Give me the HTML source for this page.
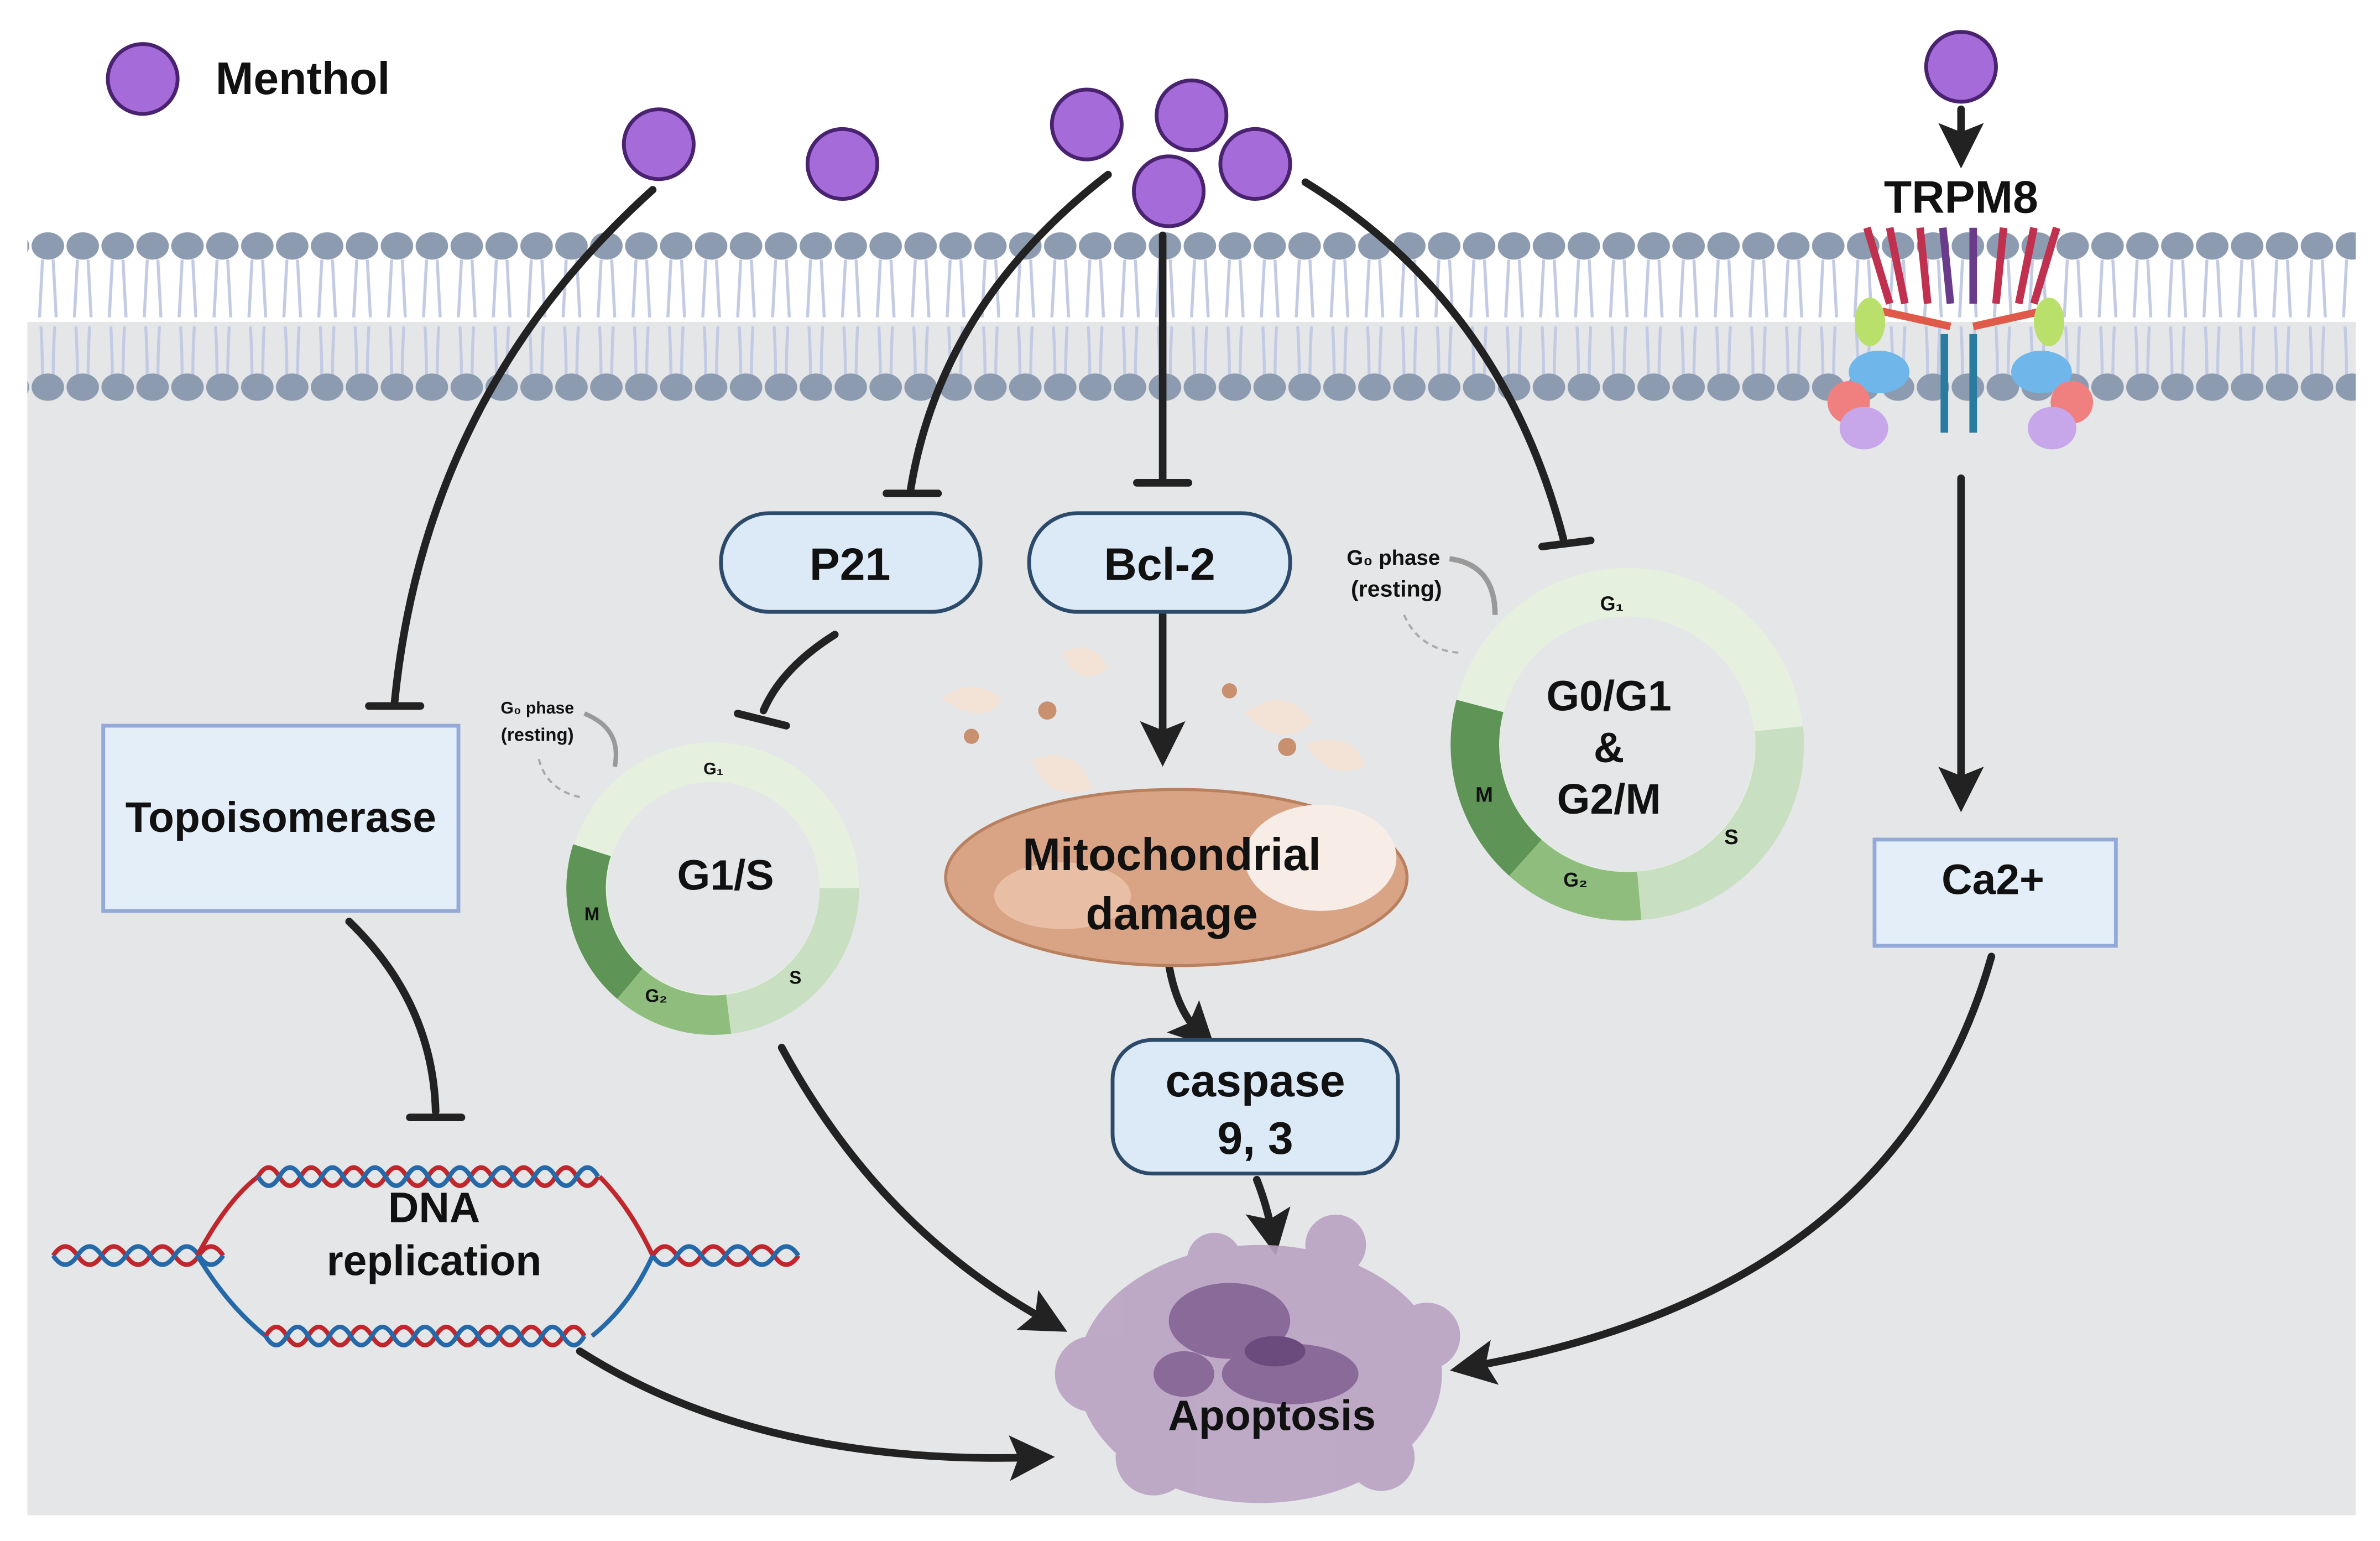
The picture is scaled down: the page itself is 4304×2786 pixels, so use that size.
<!DOCTYPE html>
<html><head><meta charset="utf-8"><style>
html,body{margin:0;padding:0;background:#fff}
svg{display:block}
text{font-family:"Liberation Sans",sans-serif;font-weight:bold;fill:#111}
</style></head><body>
<svg width="4304" height="2786" viewBox="0 0 1568 1015" xmlns="http://www.w3.org/2000/svg">
<defs>
<marker id="ah" markerWidth="6" markerHeight="6" refX="3" refY="3" orient="auto" markerUnits="strokeWidth"><path d="M0,0 L6,3 L0,6 L1.2,3 Z" fill="#222"/></marker>
<pattern id="tails" x="20" y="171" width="23" height="80" patternUnits="userSpaceOnUse"><path d="M8,0 Q7,20 6,38 M15,0 Q16,20 17,38 M7,44 Q8,62 8,80 M16,44 Q15,62 15,80" stroke="#c3cbe4" stroke-width="2" fill="none"/></pattern>
<pattern id="headsT" x="20" y="152" width="23" height="20" patternUnits="userSpaceOnUse"><ellipse cx="11.5" cy="10" rx="10.7" ry="9" fill="#8c9bb0"/></pattern>
<pattern id="headsB" x="20" y="245" width="23" height="20" patternUnits="userSpaceOnUse"><ellipse cx="11.5" cy="10" rx="10.7" ry="9" fill="#8c9bb0"/></pattern>
</defs>
<rect width="1568" height="1015" fill="#fff"/>
<rect x="18" y="212" width="1534" height="786" fill="#e5e6e8"/>
<!-- membrane -->
<rect x="18" y="171" width="1534" height="80" fill="url(#tails)"/>
<rect x="18" y="152" width="1534" height="20" fill="url(#headsT)"/>
<rect x="18" y="245" width="1534" height="20" fill="url(#headsB)"/>
<!-- menthol -->
<g fill="#a56bd9" stroke="#4a2370" stroke-width="2.5">
<circle cx="94" cy="52" r="23"/><circle cx="434" cy="95" r="23"/><circle cx="555" cy="108" r="23"/>
<circle cx="716" cy="82" r="23"/><circle cx="785" cy="76" r="23"/><circle cx="770" cy="126" r="23"/>
<circle cx="827" cy="108" r="23"/><circle cx="1292" cy="44" r="23"/>
</g>
<text x="142" y="62" font-size="30">Menthol</text>
<text x="1292" y="140" font-size="30" text-anchor="middle">TRPM8</text>
<!-- TRPM8 channel -->
<g stroke-width="5" fill="none">
<path d="M1230,150 L1245,200 M1245,150 L1255,200 M1265,150 L1270,200 M1320,150 L1315,200 M1340,150 L1330,200 M1355,150 L1340,200" stroke="#c0304f"/>
<path d="M1280,150 L1285,200 M1300,150 L1300,200" stroke="#6a3b8a"/>
<path d="M1240,205 L1285,215 M1345,205 L1300,215" stroke="#e05a4a"/>
<path d="M1281,220 L1281,285 M1300,220 L1300,285" stroke="#2a7ba0"/>
</g>
<ellipse cx="1232" cy="212" rx="10" ry="16" fill="#b8e06a"/><ellipse cx="1350" cy="212" rx="10" ry="16" fill="#b8e06a"/>
<ellipse cx="1238" cy="245" rx="20" ry="14" fill="#6fb7ea"/><ellipse cx="1345" cy="245" rx="20" ry="14" fill="#6fb7ea"/>
<circle cx="1218" cy="265" r="14" fill="#f08080"/><circle cx="1365" cy="265" r="14" fill="#f08080"/>
<ellipse cx="1228" cy="282" rx="16" ry="14" fill="#c7a6ea"/><ellipse cx="1352" cy="282" rx="16" ry="14" fill="#c7a6ea"/>
<!-- connectors -->
<g stroke="#222" stroke-width="5" fill="none" stroke-linecap="round">
<path d="M430,125 Q280,260 260,462"/><path d="M243,465 L277,465"/>
<path d="M730,115 Q620,200 600,322"/><path d="M584,325 L618,325"/>
<path d="M766,155 L766,315"/><path d="M749,318 L783,318"/>
<path d="M860,120 Q990,200 1030,355"/><path d="M1016,360 L1048,356"/>
<path d="M550,418 Q515,440 503,468"/><path d="M486,470 L518,478"/>
<path d="M230,607 Q285,660 287,732"/><path d="M270,736 L304,736"/>
<path d="M1292,72 L1292,96" marker-end="url(#ah)"/>
<path d="M1292,315 L1292,520" marker-end="url(#ah)"/>
<path d="M766,405 L766,490" marker-end="url(#ah)"/>
<path d="M770,635 Q775,665 790,680" marker-end="url(#ah)"/>
<path d="M828,777 Q835,795 838,812" marker-end="url(#ah)"/>
<path d="M515,690 Q580,810 690,870" marker-end="url(#ah)"/>
<path d="M382,890 Q500,965 680,960" marker-end="url(#ah)"/>
<path d="M1312,630 Q1250,850 970,900" marker-end="url(#ah)"/>
</g>
<!-- boxes -->
<rect x="68" y="478" width="234" height="122" fill="#e3eef8" stroke="#93a9d8" stroke-width="2.5"/>
<text x="185" y="548" font-size="28" text-anchor="middle">Topoisomerase</text>
<rect x="1235" y="553" width="159" height="70" fill="#e3eef8" stroke="#93a9d8" stroke-width="2.5"/>
<text x="1313" y="589" font-size="28" text-anchor="middle">Ca2+</text>
<rect x="475" y="338" width="171" height="65" rx="32" fill="#dceaf7" stroke="#2c4a6a" stroke-width="2.5"/>
<text x="560" y="382" font-size="30" text-anchor="middle">P21</text>
<rect x="678" y="338" width="172" height="65" rx="32" fill="#dceaf7" stroke="#2c4a6a" stroke-width="2.5"/>
<text x="764" y="382" font-size="30" text-anchor="middle">Bcl-2</text>
<rect x="733" y="685" width="188" height="88" rx="26" fill="#dceaf7" stroke="#2c4a6a" stroke-width="2.5"/>
<text x="827" y="722" font-size="30" text-anchor="middle">caspase</text>
<text x="827" y="760" font-size="30" text-anchor="middle">9, 3</text>
<!-- cell cycle G1/S -->
<g fill="none" stroke-width="26">
<circle cx="470" cy="585" r="83" stroke="#e6f0df"/>
<path d="M553,585 A83,83 0 0 1 480,668" stroke="#c9dfc2"/>
<path d="M480,668 A83,83 0 0 1 415,648" stroke="#8fbd7d"/>
<path d="M415,648 A83,83 0 0 1 390,560" stroke="#5e9456"/>
</g>
<text x="478" y="586" font-size="28" text-anchor="middle">G1/S</text>
<text x="470" y="510" font-size="11" text-anchor="middle">G₁</text>
<text x="520" y="648" font-size="12">S</text>
<text x="425" y="660" font-size="12">G₂</text>
<text x="385" y="606" font-size="12">M</text>
<text x="354" y="470" font-size="11" text-anchor="middle">G₀ phase</text>
<text x="354" y="488" font-size="12" font-weight="normal" text-anchor="middle">(resting)</text>
<path d="M385,470 Q410,480 405,505" stroke="#999" stroke-width="3" fill="none"/>
<path d="M355,500 Q360,520 382,525" stroke="#aaa" stroke-width="1.5" stroke-dasharray="4 3" fill="none"/>
<!-- cell cycle G0/G1 -->
<g fill="none" stroke-width="32">
<circle cx="1072" cy="490" r="100" stroke="#e6f0df"/>
<path d="M1172,480 A100,100 0 0 1 1080,590" stroke="#c9dfc2"/>
<path d="M1080,590 A100,100 0 0 1 1005,565" stroke="#8fbd7d"/>
<path d="M1005,565 A100,100 0 0 1 975,465" stroke="#5e9456"/>
</g>
<text x="1060" y="468" font-size="28" text-anchor="middle">G0/G1</text>
<text x="1060" y="502" font-size="28" text-anchor="middle">&amp;</text>
<text x="1060" y="536" font-size="28" text-anchor="middle">G2/M</text>
<text x="1062" y="402" font-size="13" text-anchor="middle">G₁</text>
<text x="1136" y="556" font-size="14">S</text>
<text x="1030" y="584" font-size="13">G₂</text>
<text x="972" y="528" font-size="14">M</text>
<text x="918" y="372" font-size="14" text-anchor="middle">G₀ phase</text>
<text x="920" y="393" font-size="15" font-weight="normal" text-anchor="middle">(resting)</text>
<path d="M955,368 Q985,372 985,405" stroke="#999" stroke-width="3.5" fill="none"/>
<path d="M925,405 Q935,428 962,430" stroke="#aaa" stroke-width="1.5" stroke-dasharray="4 3" fill="none"/>
<!-- mitochondria -->
<g fill="#f3e3d6">
<path d="M620,460 q20,-15 40,0 q-10,20 -40,0Z"/><path d="M700,430 q20,-10 30,10 q-20,15 -30,-10Z"/>
<path d="M820,470 q25,-20 45,5 q-20,20 -45,-5Z"/><path d="M860,490 q30,-10 40,15 q-25,10 -40,-15Z"/>
<path d="M680,500 q30,-10 40,20 q-30,10 -40,-20Z"/>
</g>
<g fill="#c8906f"><circle cx="690" cy="468" r="6"/><circle cx="640" cy="485" r="5"/><circle cx="848" cy="492" r="6"/><circle cx="810" cy="455" r="5"/></g>
<ellipse cx="775" cy="578" rx="152" ry="58" fill="#d9a486" stroke="#b9805f" stroke-width="2"/>
<ellipse cx="870" cy="565" rx="50" ry="35" fill="#f7ede6"/>
<ellipse cx="700" cy="590" rx="45" ry="22" fill="#e8bfa5"/>
<text x="772" y="573" font-size="30" text-anchor="middle">Mitochondrial</text>
<text x="772" y="612" font-size="30" text-anchor="middle">damage</text>
<!-- apoptosis -->
<g fill="#b9a3c3" opacity="0.9">
<ellipse cx="830" cy="905" rx="120" ry="85"/>
<circle cx="720" cy="905" r="25"/><circle cx="940" cy="880" r="22"/><circle cx="880" cy="820" r="20"/>
<circle cx="760" cy="960" r="25"/><circle cx="910" cy="960" r="22"/><circle cx="800" cy="830" r="18"/>
</g>
<g fill="#8a6a98"><ellipse cx="810" cy="870" rx="40" ry="25"/><ellipse cx="850" cy="905" rx="45" ry="20"/><ellipse cx="780" cy="905" rx="20" ry="15"/></g>
<g fill="#6b4b7e"><ellipse cx="840" cy="890" rx="20" ry="10"/></g>
<text x="838" y="942" font-size="28" text-anchor="middle">Apoptosis</text>
<!-- DNA -->
<g fill="none" stroke-width="3">
<path d="M35,827 q8,-12 16,0 t16,0 t16,0 t16,0 t16,0 t16,0 t16,0" stroke="#c0272d"/>
<path d="M35,827 q8,12 16,0 t16,0 t16,0 t16,0 t16,0 t16,0 t16,0" stroke="#2569a8"/>
<path d="M430,827 q8,-12 16,0 t16,0 t16,0 t16,0 t16,0 t16,0" stroke="#c0272d"/>
<path d="M430,827 q8,12 16,0 t16,0 t16,0 t16,0 t16,0 t16,0" stroke="#2569a8"/>
<path d="M130,827 Q150,790 170,775 M395,775 Q415,795 430,827" stroke="#c0272d"/>
<path d="M130,827 Q150,860 175,880 M390,880 Q415,860 430,827" stroke="#2569a8"/>
<path d="M170,775 q7,-12 14,0 t14,0 t14,0 t14,0 t14,0 t14,0 t14,0 t14,0 t14,0 t14,0 t14,0 t14,0 t14,0 t14,0 t14,0 t14,0" stroke="#c0272d"/>
<path d="M170,775 q7,12 14,0 t14,0 t14,0 t14,0 t14,0 t14,0 t14,0 t14,0 t14,0 t14,0 t14,0 t14,0 t14,0 t14,0 t14,0 t14,0" stroke="#2569a8"/>
<path d="M175,880 q7,-12 14,0 t14,0 t14,0 t14,0 t14,0 t14,0 t14,0 t14,0 t14,0 t14,0 t14,0 t14,0 t14,0 t14,0 t14,0" stroke="#c0272d"/>
<path d="M175,880 q7,12 14,0 t14,0 t14,0 t14,0 t14,0 t14,0 t14,0 t14,0 t14,0 t14,0 t14,0 t14,0 t14,0 t14,0 t14,0" stroke="#2569a8"/>
</g>
<text x="286" y="805" font-size="28" text-anchor="middle">DNA</text>
<text x="286" y="840" font-size="28" text-anchor="middle">replication</text>
</svg>
</body></html>
